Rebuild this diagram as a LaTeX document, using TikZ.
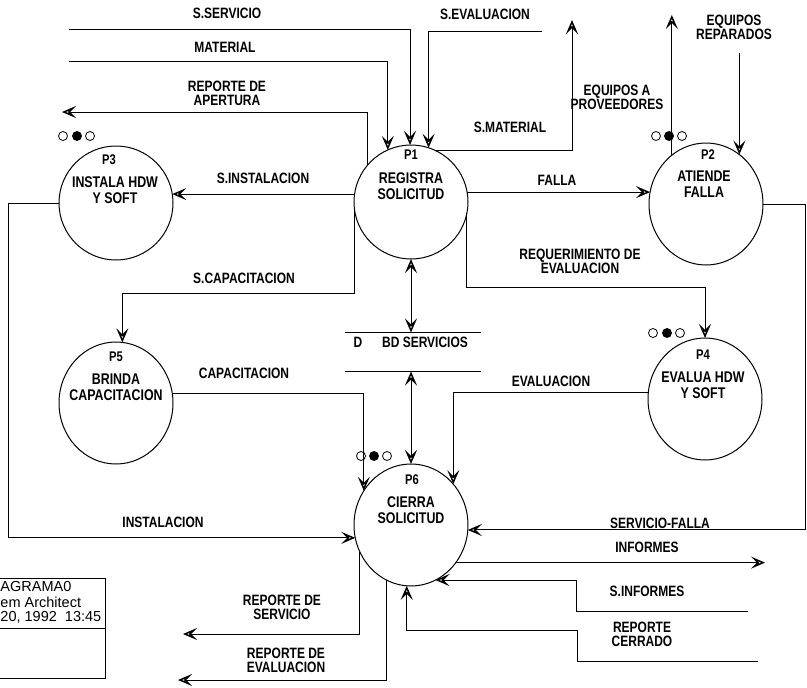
\documentclass[tikz,border=0pt]{standalone}
\usepackage{fontspec}
\setmainfont{Liberation Sans}[FakeStretch=0.8]
\newfontfamily\boxfamily{Liberation Sans}
\usetikzlibrary{arrows.meta,shapes.geometric}
\newcommand\lblfont{\fontsize{15}{14}\selectfont\bfseries}
\newcommand\ptxtfont{\fontsize{15.5}{15.5}\selectfont\bfseries}
\newcommand\pidfont{\fontsize{14}{14}\selectfont\bfseries}
\newcommand\boxfont{\boxfamily\fontsize{14.5}{15}\selectfont}
\begin{document}
\begin{tikzpicture}[x=1pt,y=-1pt,line width=1pt,
  >={Stealth[open,length=14pt,width=12pt,inset=6pt,line width=1.5pt]},
  proc/.style={ellipse,draw,minimum width=114pt,minimum height=122pt,inner sep=0pt,outer sep=0pt},
  proctop/.style={proc,minimum height=114pt},
  lbl/.style={font=\lblfont,inner sep=0pt,align=center},
  ptxt/.style={font=\ptxtfont,inner sep=0pt,align=center},
  pid/.style={font=\pidfont,inner sep=0pt},
  dotw/.style={circle,draw,line width=0.8pt,minimum size=9pt,inner sep=0pt},
  dotb/.style={dotw,fill=black},
  boxtxt/.style={font=\boxfont,inner sep=0pt,anchor=west}]
\useasboundingbox (0,0) rectangle (807,688);

% processes
\node[proctop] (p1) at (411,202) {};
\node[proc]    (p2) at (706,204) {};
\node[proctop] (p3) at (116,203) {};
\node[proc]    (p4) at (705,399) {};
\node[proc]    (p5) at (116,403) {};
\node[proc]    (p6) at (411,525) {};

\node[pid]  (p1id) at (411,155) {P1};
\node[ptxt] (p1tx) at (411,186) {REGISTRA\\SOLICITUD};
\node[pid]  (p2id) at (708,155) {P2};
\node[ptxt] (p2tx) at (704,184) {ATIENDE\\FALLA};
\node[pid]  (p3id) at (109,160) {P3};
\node[ptxt] (p3tx) at (115,190) {INSTALA HDW\\Y SOFT};
\node[pid]  (p4id) at (703,355) {P4};
\node[ptxt] (p4tx) at (703,385) {EVALUA HDW\\Y SOFT};
\node[pid]  (p5id) at (116,357) {P5};
\node[ptxt] (p5tx) at (116,387) {BRINDA\\CAPACITACION};
\node[pid]  (p6id) at (412,480) {P6};
\node[ptxt] (p6tx) at (411,510) {CIERRA\\SOLICITUD};

% status dots
\node[dotw] (d3a) at (63,136) {};  \node[dotb] (d3b) at (77,136) {};  \node[dotw] (d3c) at (90,136) {};
\node[dotw] (d2a) at (656,136) {}; \node[dotb] (d2b) at (669,136) {}; \node[dotw] (d2c) at (682,136) {};
\node[dotw] (d4a) at (653,333) {}; \node[dotb] (d4b) at (667,333) {}; \node[dotw] (d4c) at (680,333) {};
\node[dotw] (d6a) at (361,456) {}; \node[dotb] (d6b) at (374,456) {}; \node[dotw] (d6c) at (387,456) {};

% data store
\node[minimum width=135pt,minimum height=38pt,inner sep=0pt] (bd) at (412.5,352) {};
\draw (bd.north west) -- (bd.north east);
\draw (bd.south west) -- (bd.south east);
\node[lbl] (bdD) at (358,342) {D};
\node[lbl] (bdN) at (425,342) {BD SERVICIOS};

% free ends
\coordinate (servIn) at (69,29);
\coordinate (matIn)  at (69,61);
\coordinate (evIn)   at (542,31);
\coordinate (smatTip) at (572,20);
\coordinate (eqUp)   at (0,15);
\coordinate (eqRep)  at (0,53);
\coordinate (apTip)  at (62,112);
\coordinate (sfR)    at (805,0);
\coordinate (reqY)   at (0,287);
\coordinate (scY)    at (0,293);
\coordinate (instL)  at (8,0);
\coordinate (infTip) at (765,0);
\coordinate (sinfR)  at (748,611);
\coordinate (sinfX)  at (576,0);
\coordinate (rcR)    at (758,661);
\coordinate (rcX)    at (577,0);
\coordinate (rcY)    at (0,630);
\coordinate (rsTip)  at (183,634);
\coordinate (reTip)  at (178,680);

% flows
\draw[->] (servIn) -| (p1.91);
\draw[->] (matIn) -| (p1.114);
\draw[->] (evIn) -| (p1.72);
\draw[->] (p1.64) -| (smatTip);
\draw[->] (p2.125) -- (p2.125 |- eqUp);
\draw[->] (p2.56 |- eqRep) -- (p2.56);
\draw[->] (p1.140) |- (apTip);
\draw[->] (p1.172) -- (p1.172 -| p3.9);
\draw[->] (p1.10) -- (p1.10 -| p2.168);
\draw[->] (p2.east) -- (p2.east -| sfR) -- (sfR |- p6.355) -- (p6.355);
\draw[->] (p1.349) -- (p1.349 |- reqY) -| (p4.north);
\draw[->] (p1.188) -- (p1.188 |- scY) -| (p5.84);
\draw[<->] (p1.south) -- (p1.south |- bd.north);
\draw[<->] (bd.south -| p6.north) -- (p6.north);
\draw[->] (p5.10) -| (p6.144);
\draw[->] (p4.173) -| (p6.44);
\draw[->] (p3.west) -- (p3.west -| instL) -- (instL |- p6.193) -- (p6.193);
\draw[->] (p6.320) -- (p6.320 -| infTip);
\draw[->] (sinfR) -- (sinfR -| sinfX) -- (sinfX |- p6.294) -- (p6.294);
\draw[->] (rcR) -- (rcR -| rcX) -- (rcX |- rcY) -- (rcY -| p6.266) -- (p6.266);
\draw[->] (p6.208) |- (rsTip);
\draw[->] (p6.246) |- (reTip);

% flow labels
\node[lbl] (lServ) at (227,13) {S.SERVICIO};
\node[lbl] (lMat)  at (225,47) {MATERIAL};
\node[lbl] (lAp)   at (227,93.5) {REPORTE DE\\APERTURA};
\node[lbl] (lEv)   at (485,14) {S.EVALUACION};
\node[lbl] (lSmat) at (510,127) {S.MATERIAL};
\node[lbl] (lProv) at (617,97.5) {EQUIPOS A\\PROVEEDORES};
\node[lbl] (lRep)  at (734,27.5) {EQUIPOS\\REPARADOS};
\node[lbl] (lSinst) at (263,178) {S.INSTALACION};
\node[lbl] (lFalla) at (557,180) {FALLA};
\node[lbl] (lReq)  at (580,261.5) {REQUERIMIENTO DE\\EVALUACION};
\node[lbl] (lScap) at (244,278) {S.CAPACITACION};
\node[lbl] (lCap)  at (244,373) {CAPACITACION};
\node[lbl] (lEval) at (551,381) {EVALUACION};
\node[lbl] (lInst) at (163,522) {INSTALACION};
\node[lbl] (lSF)   at (660,523) {SERVICIO-FALLA};
\node[lbl] (lInf)  at (647,547) {INFORMES};
\node[lbl] (lSinf) at (647,591) {S.INFORMES};
\node[lbl] (lRc)   at (642,634) {REPORTE\\CERRADO};
\node[lbl] (lRs)   at (282,607) {REPORTE DE\\SERVICIO};
\node[lbl] (lRe)   at (286,660) {REPORTE DE\\EVALUACION};

% title block
\draw (0,578) -- (105,578) -- (105,678) -- (0,678);
\draw (0,628) -- (105,628);
\node[boxtxt] (b1) at (0,587) {AGRAMA0};
\node[boxtxt] (b2) at (0,602) {em Architect};
\node[boxtxt] (b3) at (0,617) {20, 1992\ \ 13:45};
\end{tikzpicture}
\end{document}
